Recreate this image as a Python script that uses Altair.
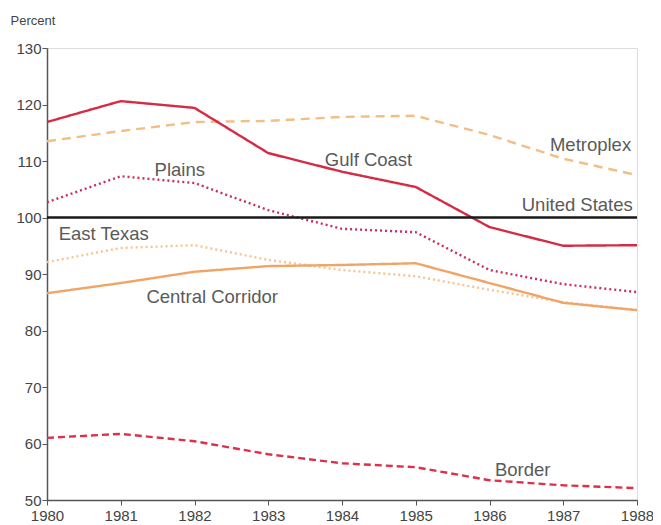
import altair as alt
import pandas as pd

years = [1980, 1981, 1982, 1983, 1984, 1985, 1986, 1987, 1988]

series_names = ["Metroplex", "East Texas", "Central Corridor", "Border", "Plains", "Gulf Coast", "United States"]
metroplex = [113.5, 115.3, 116.9, 117.1, 117.8, 118.0, 114.6, 110.4, 107.5]
east_texas = [92.1, 94.6, 95.1, 92.5, 90.7, 89.6, 87.2, 85.0, 83.6]
central_corridor = [86.6, 88.4, 90.4, 91.4, 91.6, 91.9, 88.4, 84.9, 83.6]
border = [61.0, 61.7, 60.4, 58.1, 56.5, 55.8, 53.5, 52.6, 52.1]
plains = [102.7, 107.3, 106.1, 101.3, 98.0, 97.4, 90.7, 88.2, 86.8]
gulf_coast = [116.9, 120.6, 119.4, 111.4, 108.1, 105.4, 98.3, 95.0, 95.1]
united_states = [100, 100, 100, 100, 100, 100, 100, 100, 100]

values = [metroplex, east_texas, central_corridor, border, plains, gulf_coast, united_states]
colors = ["#f3bd86", "#f5c58e", "#f0a465", "#de3049", "#c92f57", "#d42c44", "#1a1a1a"]
dashes = [[9, 6], [2, 3], [1, 0], [7, 4], [2, 3], [1, 0], [1, 0]]

label_text = ["Gulf Coast", "Metroplex", "United States", "Plains", "East Texas", "Central Corridor", "Border"]
label_x = [1984.36, 1987.37, 1987.19, 1981.8, 1980.77, 1982.24, 1986.45]
label_y = [110.2, 112.8, 102.2, 108.4, 97.1, 85.9, 55.3]

rows = []
for name, vals in zip(series_names, values):
    for y, v in zip(years, vals):
        rows.append({"series": name, "year": y, "value": v})
df = pd.DataFrame(rows)
labels = pd.DataFrame({"text": label_text, "x": label_x, "y": label_y})

x_scale = alt.Scale(domain=[1980, 1988], nice=False, zero=False)
y_scale = alt.Scale(domain=[50, 130], nice=False, zero=False)

lines = alt.Chart(df).mark_line(strokeWidth=2.4, interpolate="linear").encode(
    x=alt.X("year:Q", scale=x_scale,
            axis=alt.Axis(title=None, format="d", values=years, grid=False, labelFlush=False,
                          labelFont="Liberation Sans", labelFontSize=15, labelColor="#444",
                          domainColor="#555", tickColor="#555", tickSize=5, labelPadding=3,
                          domainWidth=1.5)),
    y=alt.Y("value:Q", scale=y_scale,
            axis=alt.Axis(title="Percent", titleAngle=0, titleAlign="left", titleBaseline="middle",
                          titleX=-37, titleY=-28, titleFont="Liberation Sans", titleFontSize=13,
                          titleFontWeight="normal", titleColor="#444",
                          values=[50, 60, 70, 80, 90, 100, 110, 120, 130], grid=False,
                          labelFont="Liberation Sans", labelFontSize=15, labelColor="#444",
                          domainColor="#555", tickColor="#555", tickSize=5, labelPadding=1,
                          domainWidth=1.5)),
    color=alt.Color("series:N", scale=alt.Scale(domain=series_names, range=colors), legend=None),
    strokeDash=alt.StrokeDash("series:N", scale=alt.Scale(domain=series_names, range=dashes), legend=None),
    detail="series:N",
)

text = alt.Chart(labels).mark_text(font="Liberation Sans", fontSize=18.5, color="#5a5a5a", align="center",
                                   baseline="middle").encode(
    x=alt.X("x:Q", scale=x_scale),
    y=alt.Y("y:Q", scale=y_scale),
    text="text:N",
)

chart = alt.layer(lines, text).properties(
    width=590, height=452,
    autosize=alt.AutoSizeParams(type="none"),
    padding={"left": 39, "top": 40, "right": 16, "bottom": 25},
).configure_view(stroke=None).configure(background="white")

chart.save("out.html", embed_options={"renderer": "svg", "actions": False})
